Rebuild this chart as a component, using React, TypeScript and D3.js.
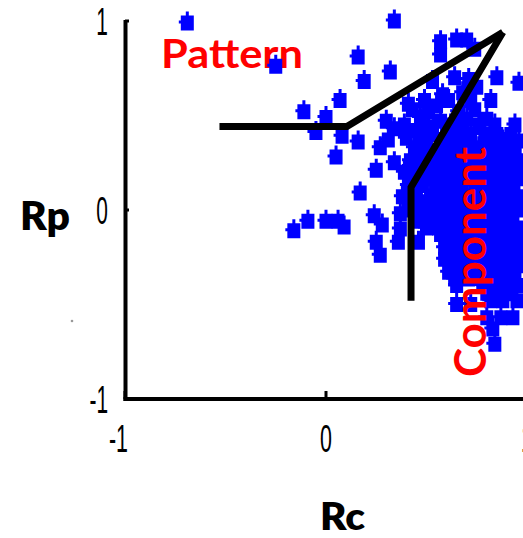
import React from "react";
import * as d3 from "d3";

const W = 523;
const H = 538;

// Axis ticks
const xTicks = [-1, 0, 1];
const yTicks = [-1, 0, 1];
const xTickLabels = ["-1", "0", "1"];
const yTickLabels = ["-1", "0", "1"];

// Scatter points [Rc, Rp]
const sparsePoints: [number, number][] = [
  [-0.69, 0.99], [-0.25, 0.76], [-0.11, 0.52], [0.0, 0.49], [-0.05, 0.41], [0.07, 0.58], [0.08, 0.39],
  [0.34, 1.0], [0.16, 0.81], [0.32, 0.73], [0.19, 0.68], [0.16, 0.36], [0.05, 0.28], [0.25, 0.21], [0.17, 0.09],
  [-0.16, -0.11], [-0.09, -0.06], [0.0, -0.06], [0.06, -0.06], [0.09, -0.09],
  [0.24, -0.03], [0.28, -0.08], [0.25, -0.17], [0.27, -0.24], [0.36, -0.17], [0.37, -0.02], [0.37, -0.1], [0.46, -0.17],
  [0.27, 0.33], [0.34, 0.25], [0.42, 0.26], [0.3, 0.47], [0.34, 0.43], [0.31, 0.37],
];

const upperPoints: [number, number][] = [
  [0.57, 0.89], [0.57, 0.82], [0.65, 0.9], [0.7, 0.9], [0.74, 0.85], [0.53, 0.68], [0.58, 0.61],
  [0.64, 0.7], [0.71, 0.69], [0.75, 0.65], [0.68, 0.62], [0.85, 0.7], [0.96, 0.67], [0.43, 0.53],
  [0.47, 0.49], [0.51, 0.52], [0.57, 0.47], [0.74, 0.53], [0.8, 0.48], [0.76, 0.45], [0.92, 0.4], [0.89, 0.34],
  [0.49, 0.58], [0.61, 0.58], [0.72, 0.58], [0.82, 0.58],
  [0.39, 0.45], [0.62, 0.45], [0.68, 0.45], [0.84, 0.45], [0.94, 0.45],
  [0.41, 0.56], [0.45, 0.42], [0.4, 0.38], [0.51, 0.44], [0.55, 0.55], [0.66, 0.52], [0.7, 0.48],
];

const densePoints: [number, number][] = [
  [0.47, 0.4], [0.53, 0.4], [0.6, 0.4], [0.67, 0.4], [0.72, 0.4], [0.79, 0.4], [0.85, 0.4],
  [0.44, 0.33], [0.5, 0.33], [0.57, 0.33], [0.63, 0.33], [0.69, 0.33], [0.76, 0.33], [0.82, 0.33], [0.94, 0.33],
  [0.47, 0.26], [0.53, 0.26], [0.59, 0.26], [0.66, 0.26], [0.72, 0.26], [0.78, 0.26], [0.84, 0.26], [0.91, 0.26], [0.96, 0.26],
  [0.39, 0.2], [0.45, 0.2], [0.52, 0.2], [0.58, 0.2], [0.64, 0.2], [0.71, 0.2], [0.77, 0.2], [0.83, 0.2], [0.9, 0.2], [0.96, 0.2],
  [0.41, 0.13], [0.48, 0.13], [0.55, 0.13], [0.61, 0.13], [0.67, 0.13], [0.74, 0.13], [0.8, 0.13], [0.87, 0.13], [0.93, 0.13],
  [0.38, 0.07], [0.44, 0.07], [0.52, 0.07], [0.58, 0.07], [0.64, 0.07], [0.7, 0.07], [0.77, 0.07], [0.84, 0.07], [0.9, 0.07], [0.96, 0.07],
  [0.43, 0.0], [0.5, 0.0], [0.57, 0.0], [0.63, 0.0], [0.7, 0.0], [0.76, 0.0], [0.83, 0.0], [0.89, 0.0], [0.96, 0.0],
  [0.46, -0.06], [0.53, -0.06], [0.6, -0.06], [0.66, -0.06], [0.73, -0.06], [0.79, -0.06], [0.86, -0.06], [0.92, -0.06],
  [0.57, -0.13], [0.63, -0.13], [0.69, -0.13], [0.76, -0.13], [0.82, -0.13], [0.88, -0.13], [0.95, -0.13],
  [0.59, -0.2], [0.65, -0.2], [0.72, -0.2], [0.78, -0.2], [0.84, -0.2], [0.91, -0.2], [0.96, -0.2],
  [0.59, -0.26], [0.66, -0.26], [0.73, -0.26], [0.8, -0.26], [0.86, -0.26], [0.93, -0.26],
  [0.61, -0.33], [0.67, -0.33], [0.74, -0.33], [0.81, -0.33], [0.87, -0.33], [0.94, -0.33],
  [0.65, -0.4], [0.78, -0.4], [0.84, -0.4], [0.9, -0.4], [0.96, -0.4],
  [0.82, -0.48], [0.88, -0.48], [0.95, -0.48], [0.65, -0.5], [0.72, -0.5],
  [0.8, -0.57], [0.87, -0.57], [0.93, -0.57], [0.83, -0.63], [0.84, -0.71],
];

const fillPoints: [number, number][] = [
  [0.5, 0.365], [0.63, 0.365], [0.7, 0.365], [0.82, 0.365], [0.88, 0.365], [0.96, 0.365],
  [0.47, 0.295], [0.6, 0.295], [0.66, 0.295], [0.73, 0.295], [0.79, 0.295], [0.87, 0.295], [0.94, 0.295],
  [0.42, 0.23], [0.49, 0.23], [0.56, 0.23], [0.62, 0.23], [0.68, 0.23], [0.75, 0.23], [0.81, 0.23], [0.87, 0.23], [0.93, 0.23],
  [0.44, 0.165], [0.51, 0.165], [0.58, 0.165], [0.64, 0.165], [0.7, 0.165], [0.77, 0.165], [0.84, 0.165], [0.9, 0.165], [0.96, 0.165],
  [0.45, 0.1], [0.55, 0.1], [0.61, 0.1], [0.67, 0.1], [0.74, 0.1], [0.8, 0.1], [0.86, 0.1], [0.93, 0.1],
  [0.41, 0.035], [0.47, 0.035], [0.54, 0.035], [0.61, 0.035], [0.67, 0.035], [0.73, 0.035], [0.8, 0.035], [0.87, 0.035], [0.93, 0.035],
  [0.47, -0.03], [0.53, -0.03], [0.6, -0.03], [0.66, -0.03], [0.73, -0.03], [0.8, -0.03], [0.86, -0.03], [0.93, -0.03],
  [0.5, -0.095], [0.56, -0.095], [0.63, -0.095], [0.69, -0.095], [0.76, -0.095], [0.82, -0.095], [0.89, -0.095], [0.95, -0.095],
  [0.61, -0.165], [0.68, -0.165], [0.75, -0.165], [0.81, -0.165], [0.87, -0.165], [0.93, -0.165],
  [0.62, -0.23], [0.69, -0.23], [0.76, -0.23], [0.83, -0.23], [0.89, -0.23], [0.95, -0.23],
  [0.63, -0.295], [0.7, -0.295], [0.77, -0.295], [0.84, -0.295], [0.9, -0.295], [0.96, -0.295],
  [0.64, -0.365], [0.71, -0.365], [0.78, -0.365], [0.84, -0.365], [0.91, -0.365],
  [0.8, -0.44], [0.86, -0.44], [0.92, -0.44],
];

// Reference lines
const patternLine: [number, number][] = [[-0.53, 0.442], [0.104, 0.442], [0.88, 0.94]];
const componentLine: [number, number][] = [[0.88, 0.94], [0.423, 0.12], [0.423, -0.48]];

const xScale = d3.scaleLinear().domain([-1, 1]).range([125, 527]);
const yScale = d3.scaleLinear().domain([-1, 1]).range([399, 21]);

const markerPath =
  "M-6.5,-7.5h13v15h-13Z M-1.5,-11.5h3v4h-3Z M-8.5,-2.5h2v3h-2Z";

const lineGen = d3
  .line<[number, number]>()
  .x((d) => xScale(d[0]))
  .y((d) => yScale(d[1]));

const tickFont = "'Liberation Sans', Arial, sans-serif";
const boldFont = "Lato, 'Open Sans', sans-serif";

export default function App() {
  const allPoints = [...sparsePoints, ...upperPoints, ...densePoints, ...fillPoints];
  return (
    <svg
      width={W}
      height={H}
      style={{ position: "fixed", left: 0, top: 0, background: "#fff" }}
    >
      <rect x={0} y={0} width={W} height={H} fill="#fff" />
      {/* Axes */}
      <line x1={125.5} x2={125.5} y1={20} y2={401} stroke="#000" strokeWidth={4} />
      <line x1={123.5} x2={W} y1={399} y2={399} stroke="#000" strokeWidth={4} />
      {xTicks.map((t) => (
        <line key={"xt" + t} x1={xScale(t)} x2={xScale(t)} y1={399} y2={391} stroke="#000" strokeWidth={3} />
      ))}
      {yTicks.map((t) => (
        <line key={"yt" + t} x1={125} x2={129} y1={yScale(t)} y2={yScale(t)} stroke="#000" strokeWidth={3} />
      ))}
      {xTicks.map((t, i) => (
        <text
          key={"xl" + t}
          transform={`translate(${t === -1 ? xScale(t) + 3 : xScale(t)},452) scale(0.55,1)`}
          textAnchor={t === -1 ? "end" : "middle"}
          fontFamily={tickFont}
          fontSize={39}
          fill="#000"
        >
          {xTickLabels[i]}
        </text>
      ))}
      {yTicks.map((t, i) => (
        <text
          key={"yl" + t}
          transform={`translate(108,${yScale(t) + 14}) scale(0.55,1)`}
          textAnchor="end"
          fontFamily={tickFont}
          fontSize={38}
          fill="#000"
        >
          {yTickLabels[i]}
        </text>
      ))}
      {/* Axis titles */}
      <text x={20} y={230} fontFamily={boldFont} fontWeight={800} fontSize={39} fill="#000" textLength={50} lengthAdjust="spacingAndGlyphs">
        Rp
      </text>
      <text x={320} y={530} fontFamily={boldFont} fontWeight={800} fontSize={38} fill="#000" textLength={45} lengthAdjust="spacingAndGlyphs">
        Rc
      </text>
      <circle cx={72} cy={321} r={1.3} fill="#999" />
      {/* Pattern label */}
      <text x={161} y={68} fontFamily={boldFont} fontWeight={700} fontSize={41} fill="#ff0000" textLength={142} lengthAdjust="spacingAndGlyphs">
        Pattern
      </text>
      {/* Points */}
      <g fill="#0000ff">
        {allPoints.map((p, i) => (
          <path key={i} d={markerPath} transform={`translate(${xScale(p[0])},${yScale(p[1])})`} />
        ))}
      </g>
      {/* Lines */}
      <path d={lineGen(patternLine) || ""} fill="none" stroke="#000" strokeWidth={7} strokeLinejoin="miter" />
      <path d={lineGen(componentLine) || ""} fill="none" stroke="#000" strokeWidth={7} strokeLinejoin="miter" />
      {/* Component label */}
      <text
        transform="translate(486,377) rotate(-90)"
        fontFamily={boldFont}
        fontWeight={700}
        fontSize={44}
        fill="#ff0000"
        textLength={230}
        lengthAdjust="spacingAndGlyphs"
      >
        Component
      </text>
    </svg>
  );
}
